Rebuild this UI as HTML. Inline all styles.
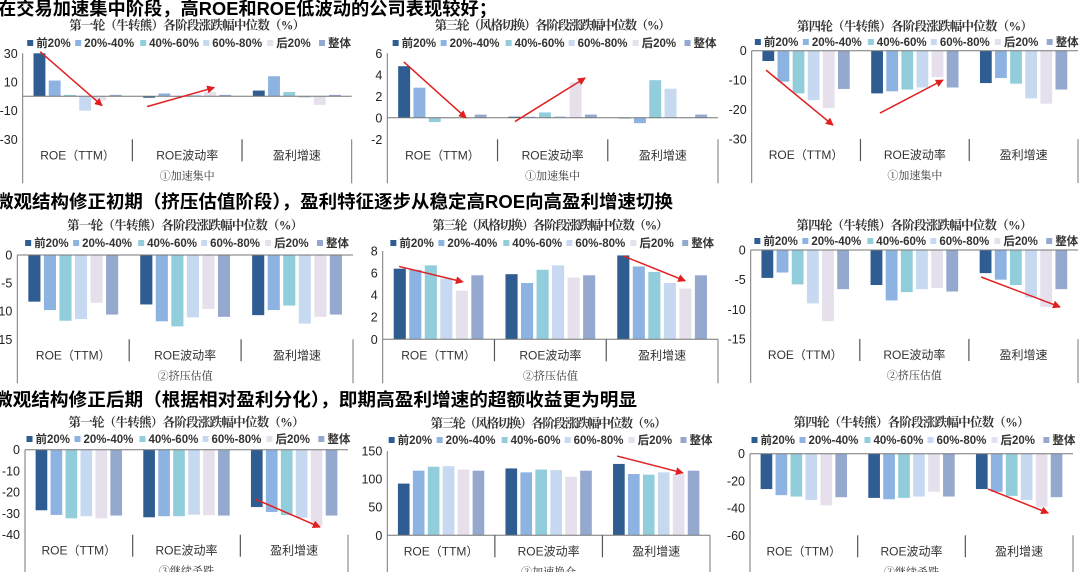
<!DOCTYPE html>
<html><head><meta charset="utf-8">
<style>
html,body{margin:0;padding:0;background:#fff;}
svg{display:block;}
.hd{font-family:"Liberation Sans","Noto Sans CJK SC",sans-serif;font-weight:bold;font-size:18px;fill:#000;}
.tt{font-family:"Liberation Serif","Noto Serif CJK SC",serif;font-weight:bold;font-size:12.5px;fill:#333;}
.lg{font-family:"Liberation Sans","Noto Sans CJK SC",sans-serif;font-weight:bold;font-size:11.5px;fill:#333;}
.tk{font-family:"Liberation Sans","Noto Sans CJK SC",sans-serif;font-size:12.5px;fill:#222;}
.ct{font-family:"Liberation Sans","Noto Sans CJK SC",sans-serif;font-size:12px;fill:#333;}
.sb{font-family:"Liberation Serif","Noto Serif CJK SC",serif;font-size:11px;fill:#333;}
</style></head>
<body>
<svg id="root" width="1080" height="572" viewBox="0 0 1080 572" xmlns="http://www.w3.org/2000/svg">
<defs><marker id="ah" markerWidth="8" markerHeight="8" refX="7" refY="4" orient="auto" markerUnits="userSpaceOnUse"><path d="M0,0 L8,4 L0,8 z" fill="#e02020"/></marker></defs>
<text class="hd" x="-2" y="15" textLength="499" lengthAdjust="spacingAndGlyphs">在交易加速集中阶段，高ROE和ROE低波动的公司表现较好；</text>
<text class="hd" x="-5" y="208" textLength="678" lengthAdjust="spacingAndGlyphs">微观结构修正初期（挤压估值阶段），盈利特征逐步从稳定高ROE向高盈利增速切换</text>
<text class="hd" x="-6" y="406" textLength="643" lengthAdjust="spacingAndGlyphs">微观结构修正后期（根据相对盈利分化），即期高盈利增速的超额收益更为明显</text>
</svg>
<script>
const categories = ["ROE（TTM）","ROE波动率","盈利增速"];
const seriesNames = ["前20%","20%-40%","40%-60%","60%-80%","后20%","整体"];
const colors = ["#2f5d91","#8db3e2","#92cddc","#c6d9f1","#e6e0ec","#95a9cf"];
// values per chart: [category][series]
const vals1 = [[30,11,1,-10,-3,1],[-1,2,-0.5,1,3,1],[4,14,3,-1,-6,1]];
const vals2 = [[4.8,2.8,-0.4,0,0,0.3],[0.1,0.1,0.5,0.15,3.3,0.3],[0,-0.5,3.5,2.7,0,0.3]];
const vals3 = [[-3.5,-10.5,-14.5,-16.8,-19.5,-13],[-14.5,-13.8,-13.2,-12.5,-9,-12.5],[-11,-9.3,-11.2,-16.2,-18,-13.2]];
const vals4 = [[-8.3,-9.8,-11.7,-11.4,-8.5,-10.6],[-8.8,-11.8,-12.7,-11.1,-9.6,-11],[-10.7,-9.8,-9,-12.2,-11,-10.6]];
const vals5 = [[6.4,6.3,6.7,5.5,4.4,5.8],[5.9,5.1,6.3,6.7,5.6,5.8],[7.6,6.6,6.1,5.1,4.6,5.8]];
const vals6 = [[-4.7,-3.8,-5.8,-9,-12,-6.6],[-5.9,-8.5,-7.1,-6.6,-6.4,-7],[-3.9,-5,-5.9,-8,-9.6,-6.6]];
const vals7 = [[-28.5,-30.7,-32.3,-31.3,-32.3,-31],[-31.8,-31.3,-31.3,-30.6,-30.8,-31],[-27,-29.3,-30.8,-32,-36,-31]];
const vals8 = [[92,115,122,123,117,115],[119,112,117,116,104,115],[127,109,108,112,109,115]];
const vals9 = [[-26,-30.5,-31.5,-34,-38,-32],[-32.5,-33.5,-32.5,-31.5,-28,-31.5],[-26,-28,-31,-34,-39,-32]];
const ticks1=[30,10,-10,-30], ticks2=[6,4,2,0,-2], ticks3=[0,-10,-20,-30], ticks4=[0,-5,-10,-15], ticks5=[8,6,4,2,0], ticks6=[0,-5,-10,-15], ticks7=[0,-10,-20,-30,-40], ticks8=[150,100,50,0], ticks9=[0,-20,-40,-60];
// arrows: [fraction of plot width, value]
const arrows1=[[[0.053,31.1],[0.241,-6.5]],[[0.378,-7.2],[0.582,6.1]]];
const arrows2=[[[0.05,5.2],[0.238,0]],[[0.386,-0.35],[0.598,3.7]]];
const arrows3=[[[0.044,-6.6],[0.249,-25.3]],[[0.393,-21.2],[0.586,-10]]];
const arrows5=[[[0.049,6.6],[0.239,5.2]],[[0.717,7.55],[0.902,5.3]]];
const arrows6=[[[0.704,-4.55],[0.945,-9.6]]];
const arrows7=[[[0.712,-23.2],[0.913,-36.4]]];
const arrows8=[[[0.712,141],[0.916,111]]];
const arrows9=[[[0.737,-26],[0.923,-43.6]]];

const T1="第一轮（牛转熊）各阶段涨跌幅中位数（%）", T3="第三轮（风格切换）各阶段涨跌幅中位数（%）", T4="第四轮（牛转熊）各阶段涨跌幅中位数（%）";
const NS="http://www.w3.org/2000/svg";
const root=document.getElementById('root');
function mk(tag,attrs,parent){const e=document.createElementNS(NS,tag);for(const k in attrs)e.setAttribute(k,attrs[k]);(parent||root).appendChild(e);return e;}

const layouts=[
 {v:vals1,t:ticks1,a:arrows1,title:T1,sub:"①加速集中",x0:22.7,x1:351.7,ymax:30,ymin:-30,pyT:53.3,pyB:139.3,ty:25,ly:43},
 {v:vals2,t:ticks2,a:arrows2,title:T3,sub:"①加速集中",x0:387.3,x1:718,ymax:6,ymin:-2,pyT:53.3,pyB:139.3,ty:25,ly:43},
 {v:vals3,t:ticks3,a:arrows3,title:T4,sub:"①加速集中",x0:751.7,x1:1078,ymax:0,ymin:-30,pyT:50.7,pyB:139,ty:26,ly:42},
 {v:vals4,t:ticks4,a:[],title:T1,sub:"②挤压估值",x0:17.3,x1:353,ymax:0,ymin:-15,pyT:255,pyB:339.3,ty:225,ly:243},
 {v:vals5,t:ticks5,a:arrows5,title:T3,sub:"②挤压估值",x0:382.7,x1:718,ymax:8,ymin:0,pyT:251,pyB:339.3,ty:225,ly:243},
 {v:vals6,t:ticks6,a:arrows6,title:T4,sub:"②挤压估值",x0:750.7,x1:1078,ymax:0,ymin:-15,pyT:250,pyB:339,ty:225,ly:241},
 {v:vals7,t:ticks7,a:arrows7,title:T1,sub:"③继续杀跌",x0:25,x1:348,ymax:0,ymin:-40,pyT:449.7,pyB:534.7,ty:422,ly:439},
 {v:vals8,t:ticks8,a:arrows8,title:T3,sub:"③加速换仓",x0:387.3,x1:710,ymax:150,ymin:0,pyT:451,pyB:535.3,ty:423,ly:440},
 {v:vals9,t:ticks9,a:arrows9,title:T4,sub:"③继续杀跌",x0:750,x1:1073,ymax:0,ymin:-60,pyT:453.7,pyB:535.3,ty:422,ly:440}
];
const legFrac=[0,0.15,0.353,0.55,0.75,0.912];

layouts.forEach((L,ci)=>{
 const g=mk('g',{});
 
 
 const y=v=>L.pyT+(L.ymax-v)/(L.ymax-L.ymin)*(L.pyB-L.pyT);
 const W=L.x1-L.x0, gw=W/3, slot=gw/7.2, off=(gw-6*slot)/2, bw=slot*0.78;
 const cx=(L.x0+L.x1)/2;
 const tt=mk('text',{class:'tt',x:cx-118,y:L.ty+4.5,textLength:236,lengthAdjust:'spacing'},g);
 tt.textContent=L.title;
 
 
 const lx=cx-160;
 seriesNames.forEach((s,i)=>{
  const lg=mk('g',{},g);
  
  
  const px=lx+legFrac[i]*320;
  mk('rect',{x:px,y:L.ly-3,width:6,height:6,fill:colors[i]},lg);
  const t=mk('text',{class:'lg',x:px+9,y:L.ly+4},lg);t.textContent=s;
 });
 L.v.forEach((row,c)=>{
  row.forEach((val,s)=>{
   const bx=L.x0+c*gw+off+s*slot+(slot-bw)/2;
   const ya=y(val),y0=y(0);
   const r=mk('rect',{x:bx,y:Math.min(ya,y0),width:bw,height:Math.max(0.6,Math.abs(ya-y0)),fill:colors[s]},g);
   
   
  });
 });
 const yb=L.pyB;
 const ax=mk('line',{x1:L.x0,y1:L.pyT,x2:L.x0,y2:yb+44,stroke:'#777','stroke-width':1},g);
 
 
 mk('line',{x1:L.x0,y1:y(0),x2:L.x1,y2:y(0),stroke:'#777','stroke-width':1},g);
 mk('line',{x1:L.x1,y1:yb,x2:L.x1,y2:yb+44,stroke:'#777','stroke-width':1},g);
 [1,2].forEach(k=>mk('line',{x1:L.x0+k*gw,y1:yb,x2:L.x0+k*gw,y2:yb+22,stroke:'#555','stroke-width':1.2},g));
 L.t.forEach(tv=>{
  const t=mk('text',{class:'tk',x:L.x0-5,y:y(tv)+4.5,'text-anchor':'end'},g);
  t.textContent=tv;
  
  
 });
 categories.forEach((c,k)=>{
  const t=mk('text',{class:'ct',x:L.x0+(k+0.5)*gw,y:yb+20,'text-anchor':'middle'},g);
  t.textContent=c;
  
  
 });
 const sb=mk('text',{class:'sb',x:cx,y:yb+40,'text-anchor':'middle'},g);
 sb.textContent=L.sub;
 
 
 L.a.forEach(a=>{
  const ar=mk('line',{x1:L.x0+a[0][0]*W,y1:y(a[0][1]),x2:L.x0+a[1][0]*W,y2:y(a[1][1]),stroke:'#e02020','stroke-width':1.5,'marker-end':'url(#ah)'},g);
  
  
 });
});
</script>
</body></html>
